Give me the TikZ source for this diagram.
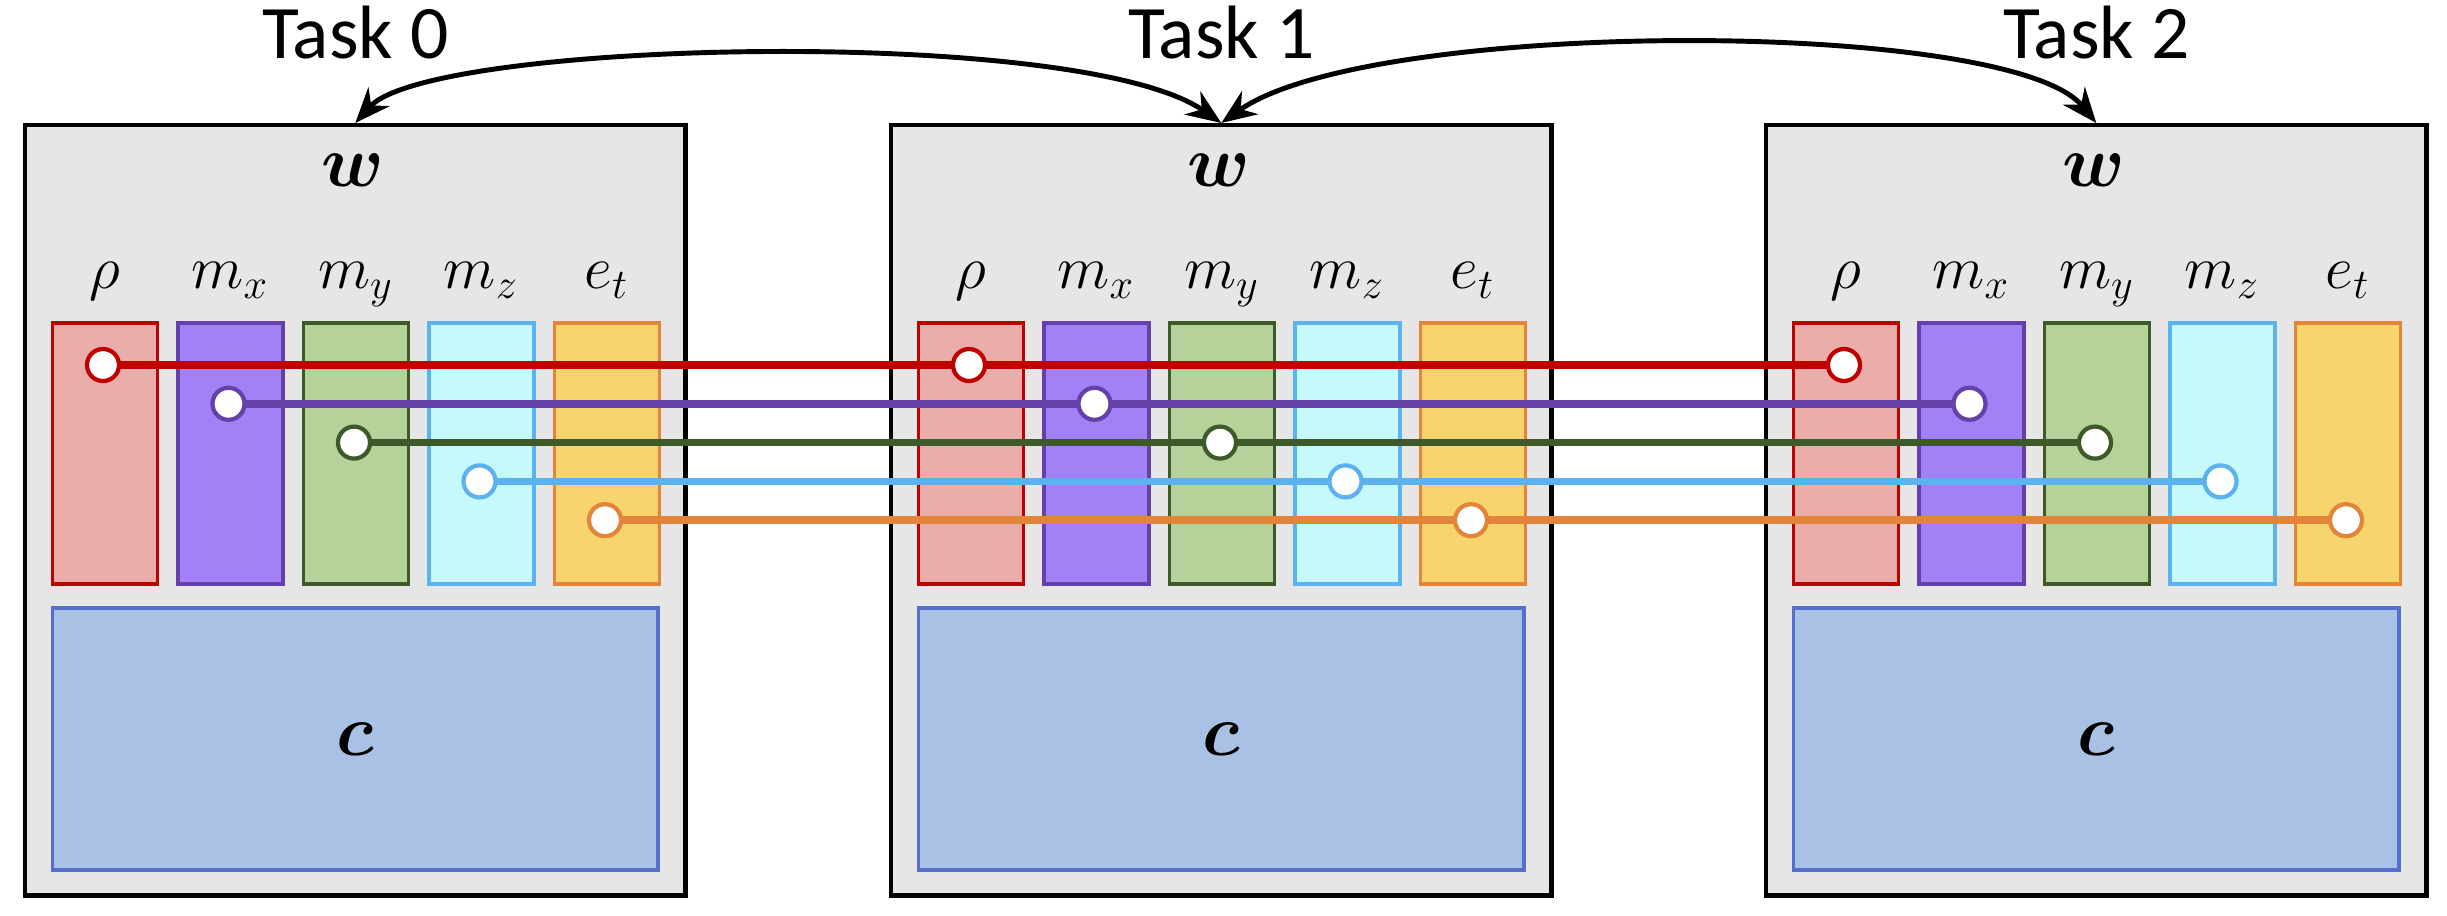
\documentclass[tikz,border=0pt]{standalone}
\usepackage{amsmath}
\usepackage{fontspec}
\setmainfont{Carlito}
\usetikzlibrary{arrows.meta}
\definecolor{boxgray}{HTML}{E6E6E6}
\definecolor{rhofill}{HTML}{EAADA9}
\definecolor{rholine}{HTML}{C00000}
\definecolor{mxfill}{HTML}{A280F6}
\definecolor{mxline}{HTML}{6440A8}
\definecolor{myfill}{HTML}{B5D29A}
\definecolor{myline}{HTML}{3E5A2A}
\definecolor{mzfill}{HTML}{C5F9FB}
\definecolor{mzline}{HTML}{5CB2EE}
\definecolor{etfill}{HTML}{F7D46E}
\definecolor{etline}{HTML}{E2843A}
\definecolor{cfill}{HTML}{A9C1E4}
\definecolor{cline}{HTML}{5470CC}
\begin{document}
\begin{tikzpicture}[x=0.01cm,y=-0.01cm,
  taskbox/.style={draw=black,fill=boxgray,line width=1.2pt,minimum width=6.6cm,minimum height=7.7cm,inner sep=0pt,anchor=north west},
  colbox/.style={line width=1pt,minimum width=1.05cm,minimum height=2.61cm,inner sep=0pt,anchor=north west},
  cbox/.style={draw=cline,fill=cfill,line width=1pt,minimum width=6.055cm,minimum height=2.62cm,inner sep=0pt,anchor=north west,font=\fontsize{21}{24}\selectfont},
  tasklabel/.style={anchor=base,font=\fontsize{21.5}{25}\selectfont,inner sep=0pt},
  varlabel/.style={anchor=base,font=\fontsize{18}{21}\selectfont,inner sep=0pt},
  wlabel/.style={anchor=base,font=\fontsize{21}{24}\selectfont,inner sep=0pt},
  conn/.style={line width=2.2pt},
  dot/.style={circle,fill=white,line width=1.2pt,minimum size=0.32cm,inner sep=0pt},
  biarrow/.style={line width=1.4pt,{Stealth[length=10pt,width=8pt]}-{Stealth[length=10pt,width=8pt]}}]
\useasboundingbox (0,0) rectangle (2447,916);
\foreach \b/\X in {0/23,1/889,2/1764} {
  \node[taskbox] (box\b) at (\X,123) {};
  \node[tasklabel] (task\b) at ([yshift=0.64cm]box\b.north) {Task \b};
  \node[wlabel] (w\b) at ({\X+330},187) {$\boldsymbol{w}$};
  \foreach \i/\col/\lab in {0/rho/\rho,1/mx/m_x,2/my/m_y,3/mz/m_z,4/et/e_t} {
    \node[colbox,draw=\col line,fill=\col fill] (col\b-\i) at ({\X+27.5+125.5*\i},321) {};
    \node[varlabel] (lab\b-\i) at ([yshift=0.32cm]col\b-\i.north) {$\lab$};
    \coordinate (p\b-\i) at ({\X+80+125.5*\i},{365+38.8*\i});
  }
  \node[cbox] (c\b) at ({\X+27.5},606) {$\boldsymbol{c}$};
}
\foreach \i/\col in {0/rho,1/mx,2/my,3/mz,4/et} {
  \draw[conn,draw=\col line] (p0-\i) -- (p2-\i);
}
\foreach \b in {0,1,2} {
  \foreach \i/\col in {0/rho,1/mx,2/my,3/mz,4/et} {
    \node[dot,draw=\col line] (dot\b-\i) at (p\b-\i) {};
  }
}
\draw[biarrow] (box0.north) .. controls (430,40) and (1080,25) .. (box1.north);
\draw[biarrow] (box1.north) .. controls (1370,18) and (2010,18) .. (box2.north);
\end{tikzpicture}
\end{document}
